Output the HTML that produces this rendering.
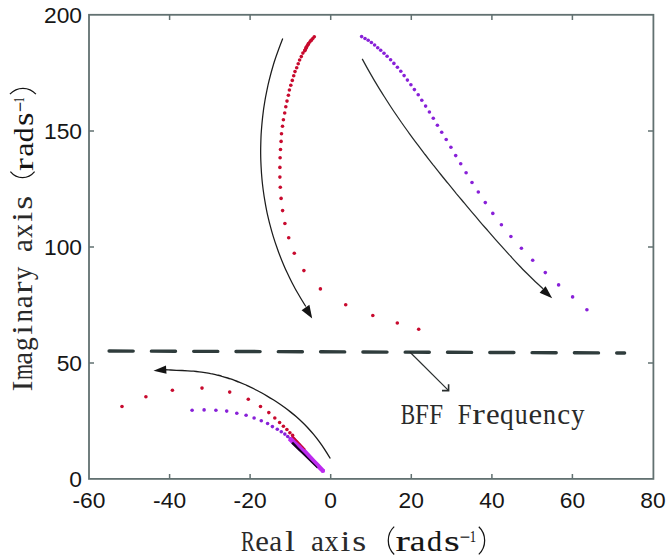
<!DOCTYPE html>
<html><head><meta charset="utf-8"><style>
html,body{margin:0;padding:0;background:#fff;}
svg{display:block;}
</style></head><body>
<svg width="666" height="558" viewBox="0 0 666 558">
<rect x="89" y="14.8" width="564.4" height="464.1" fill="none" stroke="#627171" stroke-width="1.8"/>
<path d="M169.6 479V474M169.6 15V20M250.1 479V474M250.1 15V20M330.7 479V474M330.7 15V20M411.3 479V474M411.3 15V20M491.9 479V474M491.9 15V20M572.4 479V474M572.4 15V20M89 363.0H94M653 363.0H648M89 247.0H94M653 247.0H648M89 131.0H94M653 131.0H648" stroke="#627171" stroke-width="1.5" fill="none"/>
<g font-family="Liberation Sans, sans-serif" font-size="22.8" fill="#161616"><text x="89.0" y="508.3" text-anchor="middle">-60</text><text x="169.6" y="508.3" text-anchor="middle">-40</text><text x="250.1" y="508.3" text-anchor="middle">-20</text><text x="330.7" y="508.3" text-anchor="middle">0</text><text x="411.3" y="508.3" text-anchor="middle">20</text><text x="491.9" y="508.3" text-anchor="middle">40</text><text x="572.4" y="508.3" text-anchor="middle">60</text><text x="653.0" y="508.3" text-anchor="middle">80</text><text x="82" y="23.1" text-anchor="end">200</text><text x="82" y="139.1" text-anchor="end">150</text><text x="82" y="255.1" text-anchor="end">100</text><text x="82" y="371.1" text-anchor="end">50</text><text x="82" y="487.1" text-anchor="end">0</text></g>
<path d="M109.1 351L624.6 353" stroke="#2f3c3c" stroke-width="3.4" stroke-linecap="round" stroke-dasharray="24.1 18.2" fill="none"/>
<path d="M282.7 38.5C282.0 40.4 279.7 46.3 278.3 50.2C276.9 54.0 275.5 57.9 274.3 61.8C273.1 65.7 272.0 69.6 270.9 73.5C269.9 77.3 268.9 81.2 268.0 85.1C267.2 89.0 266.4 92.9 265.6 96.8C264.9 100.6 264.3 104.5 263.7 108.4C263.2 112.3 262.7 116.2 262.3 120.1C261.9 123.9 261.6 127.8 261.3 131.7C261.0 135.6 260.9 139.5 260.8 143.4C260.7 147.3 260.6 151.1 260.7 155.0C260.7 158.9 260.9 162.8 261.1 166.7C261.3 170.6 261.5 174.4 261.9 178.3C262.2 182.2 262.7 186.1 263.2 190.0C263.7 193.9 264.3 197.7 265.0 201.6C265.6 205.5 266.4 209.4 267.2 213.3C268.1 217.2 269.0 221.1 270.0 224.9C271.0 228.8 272.1 232.7 273.3 236.6C274.5 240.5 275.8 244.4 277.2 248.2C278.5 252.1 280.0 256.0 281.6 259.9C283.2 263.8 284.8 267.7 286.6 271.5C288.4 275.4 290.3 279.3 292.3 283.2C294.3 287.1 296.4 291.0 298.7 294.8C300.9 298.7 304.6 304.6 305.8 306.5" stroke="#1c1c1c" stroke-width="1.25" fill="none"/>
<path d="M312.2 318.6L301.6 310.3L309.4 304.8Z" fill="#141414"/>
<path d="M362.2 58.9C363.5 61.3 367.4 68.5 370.1 73.1C372.7 77.7 375.3 82.1 377.9 86.4C380.5 90.7 383.2 94.9 385.8 99.0C388.4 103.1 391.0 107.1 393.6 111.0C396.3 114.9 398.9 118.7 401.5 122.5C404.1 126.2 406.7 129.9 409.4 133.5C412.0 137.1 414.6 140.6 417.2 144.1C419.8 147.6 422.5 151.1 425.1 154.5C427.7 157.9 430.3 161.2 432.9 164.6C435.6 167.9 438.2 171.2 440.8 174.5C443.4 177.7 446.0 181.0 448.7 184.2C451.3 187.4 453.9 190.6 456.5 193.8C459.2 196.9 461.8 200.1 464.4 203.2C467.0 206.3 469.6 209.5 472.3 212.6C474.9 215.7 477.5 218.7 480.1 221.8C482.7 224.9 485.4 227.9 488.0 230.9C490.6 233.9 493.2 236.9 495.8 239.9C498.5 242.9 501.1 245.8 503.7 248.7C506.3 251.6 508.9 254.5 511.6 257.3C514.2 260.2 516.8 263.0 519.4 265.7C522.0 268.5 524.7 271.2 527.3 273.8C529.9 276.4 532.5 279.0 535.1 281.5C537.8 284.0 541.7 287.6 543.0 288.8" stroke="#262a2a" stroke-width="1.25" fill="none"/>
<path d="M552.2 298.3L539.6 292.7L545.6 286.3Z" fill="#141414"/>
<path d="M330.3 458.5C329.4 457.0 326.5 452.2 324.6 449.3C322.7 446.4 320.8 443.7 318.9 441.1C317.0 438.6 315.1 436.2 313.2 433.9C311.3 431.7 309.4 429.6 307.5 427.5C305.6 425.5 303.7 423.6 301.8 421.8C299.9 420.0 298.0 418.3 296.1 416.6C294.2 414.9 292.3 413.4 290.4 411.9C288.5 410.4 286.6 408.9 284.7 407.5C282.8 406.1 280.9 404.8 279.0 403.5C277.1 402.2 275.2 401.0 273.3 399.8C271.4 398.6 269.5 397.4 267.6 396.3C265.7 395.2 263.8 394.1 261.9 393.0C260.0 392.0 258.1 391.0 256.2 390.0C254.3 389.0 252.4 388.1 250.5 387.2C248.6 386.2 246.7 385.4 244.8 384.5C242.9 383.7 241.0 382.9 239.1 382.1C237.2 381.4 235.3 380.6 233.4 379.9C231.5 379.3 229.6 378.6 227.7 378.0C225.8 377.4 223.9 376.8 222.0 376.3C220.1 375.7 218.2 375.3 216.3 374.8C214.4 374.4 212.5 373.9 210.6 373.6C208.7 373.2 206.8 372.9 204.9 372.6C203.0 372.3 201.1 372.0 199.2 371.8C197.3 371.6 195.4 371.4 193.5 371.2C191.6 371.0 189.7 370.9 187.8 370.8C185.9 370.7 184.0 370.6 182.1 370.5C180.2 370.4 178.3 370.3 176.4 370.3C174.5 370.2 172.6 370.1 170.7 370.0C168.8 369.9 165.9 369.7 165.0 369.7" stroke="#1c1c1c" stroke-width="1.35" fill="none"/>
<path d="M153.5 370.7L166 365.5L166.5 373.8Z" fill="#141414"/>
<path d="M409.6 351.8L448.4 390.4" stroke="#2a2f2f" stroke-width="1.2" fill="none"/>
<path d="M448.6 384.3V390.6H442" stroke="#2a2f2f" stroke-width="1.6" fill="none"/>
<g fill="#c80a2e"><circle cx="314.3" cy="36.7" r="1.8"/><circle cx="312.8" cy="38.5" r="1.8"/><circle cx="311.2" cy="40.2" r="1.8"/><circle cx="311.2" cy="40.2" r="1.8"/><circle cx="309.8" cy="42.0" r="1.8"/><circle cx="308.4" cy="43.9" r="1.8"/><circle cx="308.4" cy="43.9" r="1.8"/><circle cx="307.4" cy="45.6" r="1.8"/><circle cx="306.3" cy="47.4" r="1.8"/><circle cx="306.3" cy="47.4" r="1.8"/><circle cx="305.6" cy="49.0" r="1.8"/><circle cx="304.8" cy="50.6" r="1.8"/><circle cx="304.8" cy="50.6" r="1.8"/><circle cx="302.9" cy="53.1" r="1.8"/><circle cx="301.3" cy="56.6" r="1.8"/><circle cx="299.6" cy="60.0" r="1.8"/><circle cx="298.2" cy="63.7" r="1.8"/><circle cx="296.7" cy="67.7" r="1.8"/><circle cx="295.0" cy="71.6" r="1.8"/><circle cx="293.7" cy="75.7" r="1.8"/><circle cx="292.3" cy="80.4" r="1.8"/><circle cx="290.8" cy="85.3" r="1.8"/><circle cx="289.4" cy="90.0" r="1.8"/><circle cx="288.4" cy="95.3" r="1.8"/><circle cx="287.0" cy="101.1" r="1.8"/><circle cx="285.8" cy="106.8" r="1.8"/><circle cx="284.7" cy="113.0" r="1.8"/><circle cx="283.4" cy="119.7" r="1.8"/><circle cx="282.5" cy="126.3" r="1.8"/><circle cx="281.5" cy="133.8" r="1.8"/><circle cx="281.1" cy="141.4" r="1.8"/><circle cx="280.5" cy="149.5" r="1.8"/><circle cx="280.1" cy="157.8" r="1.8"/><circle cx="279.9" cy="167.4" r="1.8"/><circle cx="279.9" cy="177.1" r="1.8"/><circle cx="280.3" cy="187.3" r="1.8"/><circle cx="281.1" cy="198.4" r="1.8"/><circle cx="282.6" cy="210.6" r="1.8"/><circle cx="284.9" cy="223.5" r="1.8"/><circle cx="288.7" cy="237.8" r="1.8"/><circle cx="294.3" cy="253.3" r="1.8"/><circle cx="303.9" cy="270.6" r="1.8"/><circle cx="320.4" cy="288.9" r="1.8"/><circle cx="345.7" cy="304.7" r="1.8"/><circle cx="372.8" cy="315.5" r="1.8"/><circle cx="397.3" cy="323.0" r="1.8"/><circle cx="418.7" cy="329.2" r="1.8"/><circle cx="122.0" cy="406.5" r="1.8"/><circle cx="145.9" cy="396.8" r="1.8"/><circle cx="172.4" cy="390.3" r="1.8"/><circle cx="202.0" cy="388.1" r="1.8"/><circle cx="229.7" cy="392.1" r="1.8"/><circle cx="248.3" cy="399.3" r="1.8"/><circle cx="260.5" cy="406.5" r="1.8"/><circle cx="268.8" cy="412.6" r="1.8"/><circle cx="274.8" cy="418.0" r="1.8"/><circle cx="279.6" cy="422.5" r="1.8"/><circle cx="283.4" cy="426.3" r="1.8"/><circle cx="286.9" cy="429.5" r="1.8"/><circle cx="289.9" cy="432.7" r="1.8"/><circle cx="292.6" cy="435.4" r="1.8"/></g>
<g fill="#8820d8"><circle cx="361.6" cy="36.6" r="1.8"/><circle cx="365.0" cy="38.5" r="1.8"/><circle cx="368.2" cy="40.3" r="1.8"/><circle cx="371.4" cy="42.5" r="1.8"/><circle cx="374.6" cy="45.0" r="1.8"/><circle cx="377.7" cy="47.7" r="1.8"/><circle cx="380.7" cy="50.2" r="1.8"/><circle cx="384.0" cy="53.3" r="1.8"/><circle cx="387.1" cy="56.3" r="1.8"/><circle cx="390.6" cy="59.8" r="1.8"/><circle cx="393.9" cy="63.4" r="1.8"/><circle cx="397.4" cy="67.2" r="1.8"/><circle cx="400.8" cy="71.3" r="1.8"/><circle cx="404.1" cy="75.6" r="1.8"/><circle cx="407.4" cy="80.1" r="1.8"/><circle cx="410.9" cy="84.7" r="1.8"/><circle cx="414.4" cy="89.6" r="1.8"/><circle cx="418.2" cy="94.8" r="1.8"/><circle cx="421.8" cy="100.2" r="1.8"/><circle cx="425.6" cy="106.1" r="1.8"/><circle cx="429.4" cy="112.0" r="1.8"/><circle cx="433.3" cy="118.3" r="1.8"/><circle cx="437.4" cy="125.3" r="1.8"/><circle cx="441.7" cy="132.3" r="1.8"/><circle cx="446.2" cy="139.5" r="1.8"/><circle cx="450.9" cy="147.3" r="1.8"/><circle cx="455.7" cy="155.6" r="1.8"/><circle cx="460.7" cy="163.8" r="1.8"/><circle cx="466.1" cy="172.8" r="1.8"/><circle cx="472.0" cy="182.5" r="1.8"/><circle cx="478.3" cy="192.0" r="1.8"/><circle cx="485.3" cy="202.6" r="1.8"/><circle cx="492.8" cy="213.4" r="1.8"/><circle cx="501.4" cy="224.7" r="1.8"/><circle cx="510.9" cy="236.5" r="1.8"/><circle cx="521.4" cy="248.3" r="1.8"/><circle cx="532.7" cy="260.3" r="1.8"/><circle cx="545.3" cy="272.6" r="1.8"/><circle cx="558.6" cy="284.9" r="1.8"/><circle cx="572.6" cy="296.9" r="1.8"/><circle cx="586.9" cy="309.7" r="1.8"/><circle cx="192.1" cy="410.3" r="1.8"/><circle cx="204.1" cy="409.9" r="1.8"/><circle cx="215.9" cy="410.3" r="1.8"/><circle cx="226.7" cy="411.1" r="1.8"/><circle cx="236.8" cy="413.2" r="1.8"/><circle cx="246.1" cy="415.3" r="1.8"/><circle cx="254.1" cy="418.0" r="1.8"/><circle cx="261.3" cy="420.8" r="1.8"/><circle cx="267.6" cy="423.5" r="1.8"/><circle cx="272.4" cy="426.6" r="1.8"/><circle cx="277.3" cy="429.2" r="1.8"/><circle cx="281.3" cy="431.7" r="1.8"/><circle cx="284.8" cy="434.1" r="1.8"/><circle cx="287.7" cy="436.5" r="1.8"/><circle cx="290.2" cy="438.7" r="1.8"/></g>
<path d="M292.72 435.41L295.96 438.87L299.19 442.33L302.43 445.79L305.67 449.26L308.91 452.72L312.14 456.18L315.38 459.64L318.62 463.10L321.86 466.56L325.09 470.02L322.11 472.98L318.68 469.70L315.26 466.42L311.84 463.14L308.42 459.86L304.99 456.58L301.57 453.30L298.15 450.03L294.73 446.75L291.30 443.47L287.88 440.19Z" fill="#bd2aef"/>
<circle cx="323.0" cy="470.9" r="2.1" fill="#bd2aef"/>
<path d="M293.01 441.78L295.47 444.35L297.93 446.91L300.39 449.47L302.85 452.04L305.31 454.60L307.77 457.17L310.23 459.73L312.69 462.30L315.15 464.86L317.61 467.43L316.90 468.13L314.33 465.67L311.77 463.21L309.20 460.75L306.63 458.29L304.07 455.83L301.50 453.37L298.93 450.92L296.37 448.46L293.80 446.00L291.23 443.54Z" fill="#14031f"/>
<path d="M292.86 435.27L294.16 436.65L295.45 438.04L296.75 439.42L298.04 440.81L299.34 442.19L300.63 443.58L301.93 444.96L303.22 446.35L304.52 447.73L305.81 449.12L305.17 449.75L303.79 448.45L302.41 447.15L301.03 445.85L299.65 444.55L298.27 443.25L296.89 441.95L295.51 440.65L294.13 439.35L292.75 438.05L291.37 436.75Z" fill="#c80a2e"/>
<g font-family="Liberation Serif, serif" font-size="29.3" fill="#2a2a2a"><text transform="translate(407.75,423.50) scale(0.735,1)" x="-9.48">B</text><text transform="translate(421.93,423.50) scale(0.848,1)" x="-8.04">F</text><text transform="translate(436.11,423.50) scale(0.848,1)" x="-8.04">F</text><text transform="translate(464.47,423.50) scale(0.848,1)" x="-8.04">F</text><text transform="translate(478.65,423.50) scale(1.290,1)" x="-5.04">r</text><text transform="translate(492.83,423.50) scale(1.051,1)" x="-6.57">e</text><text transform="translate(507.01,423.50) scale(0.934,1)" x="-7.59">q</text><text transform="translate(521.19,423.50) scale(0.879,1)" x="-7.27">u</text><text transform="translate(535.37,423.50) scale(1.051,1)" x="-6.57">e</text><text transform="translate(549.55,423.50) scale(0.887,1)" x="-7.44">n</text><text transform="translate(563.73,423.50) scale(0.992,1)" x="-6.61">c</text><text transform="translate(577.91,423.50) scale(0.903,1)" x="-7.45">y</text></g>
<g font-family="Liberation Serif, serif" font-size="29.3" fill="#2a2a2a"><text transform="translate(248.20,550.80) scale(0.708,1)" x="-10.17">R</text><text transform="translate(262.10,550.80) scale(1.051,1)" x="-6.57">e</text><text transform="translate(276.00,550.80) scale(0.994,1)" x="-6.82">a</text><text transform="translate(289.90,550.80) scale(1.234,1)" x="-4.07">l</text><text transform="translate(317.70,550.80) scale(0.994,1)" x="-6.82">a</text><text transform="translate(331.60,550.80) scale(0.962,1)" x="-7.27">x</text><text transform="translate(345.50,550.80) scale(1.206,1)" x="-4.10">i</text><text transform="translate(359.40,550.80) scale(1.225,1)" x="-5.77">s</text></g>
<g font-family="Liberation Serif, serif" fill="#141414"><text transform="translate(403.00,551.40) scale(1.356,0.922)" x="-5.51" font-size="32" stroke="#141414" stroke-width="0.12">r</text><text transform="translate(418.00,551.41) scale(1.108,0.926)" x="-7.45" font-size="32" stroke="#141414" stroke-width="0.12">a</text><text transform="translate(435.00,551.30) scale(0.941,0.946)" x="-8.38" font-size="32" stroke="#141414" stroke-width="0.12">d</text><text transform="translate(452.00,551.42) scale(1.262,0.910)" x="-6.30" font-size="32" stroke="#141414" stroke-width="0.12">s</text><text transform="translate(464.95,545.10) scale(0.584,0.753)" x="-9.04" font-size="32" stroke="#141414" stroke-width="0.1">−</text><text transform="translate(473.00,542.00) scale(0.399,0.530)" x="-8.45" font-size="32" stroke="#141414" stroke-width="0.1">1</text></g>
<path d="M394.2 526.6C386.3 534 386.3 547 394.2 554.5M478.8 526.7C486.6 534 486.6 547 478.8 554.4" stroke="#141414" stroke-width="1.25" fill="none"/>
<g transform="rotate(-90)" font-family="Liberation Serif, serif" fill="#141414"><text transform="translate(-164.40,33.10) scale(1.212,0.849)" x="-5.51" font-size="32">r</text><text transform="translate(-149.10,33.03) scale(1.013,0.848)" x="-7.45" font-size="32">a</text><text transform="translate(-134.65,33.03) scale(0.920,0.862)" x="-8.38" font-size="32">d</text><text transform="translate(-119.10,33.22) scale(1.082,0.890)" x="-6.30" font-size="32">s</text><text transform="translate(-106.75,27.80) scale(0.571,0.753)" x="-9.04" font-size="32">−</text><text transform="translate(-99.80,24.30) scale(0.320,0.488)" x="-8.45" font-size="32">1</text></g>
<g transform="rotate(-90)"><path d="M-171.6 10.4C-179.6 17 -179.6 28 -171.6 34.6M-94.2 9.9C-86.4 17 -86.4 29 -94.2 35.9" stroke="#141414" stroke-width="1.2" fill="none"/></g>
<g transform="rotate(-90)"><g font-family="Liberation Serif, serif" font-size="29.3" fill="#2a2a2a"><text transform="translate(-386.10,32.30) scale(1.121,1)" x="-4.89">I</text><text transform="translate(-372.00,32.30) scale(0.705,1)" x="-11.47">m</text><text transform="translate(-357.90,32.30) scale(0.994,1)" x="-6.82">a</text><text transform="translate(-343.80,32.30) scale(0.935,1)" x="-7.68">g</text><text transform="translate(-329.70,32.30) scale(1.206,1)" x="-4.10">i</text><text transform="translate(-315.60,32.30) scale(0.887,1)" x="-7.44">n</text><text transform="translate(-301.50,32.30) scale(0.994,1)" x="-6.82">a</text><text transform="translate(-287.40,32.30) scale(1.290,1)" x="-5.04">r</text><text transform="translate(-273.30,32.30) scale(0.903,1)" x="-7.45">y</text><text transform="translate(-245.10,32.30) scale(0.994,1)" x="-6.82">a</text><text transform="translate(-231.00,32.30) scale(0.962,1)" x="-7.27">x</text><text transform="translate(-216.90,32.30) scale(1.206,1)" x="-4.10">i</text><text transform="translate(-202.80,32.30) scale(1.225,1)" x="-5.77">s</text></g></g>
</svg>
</body></html>
